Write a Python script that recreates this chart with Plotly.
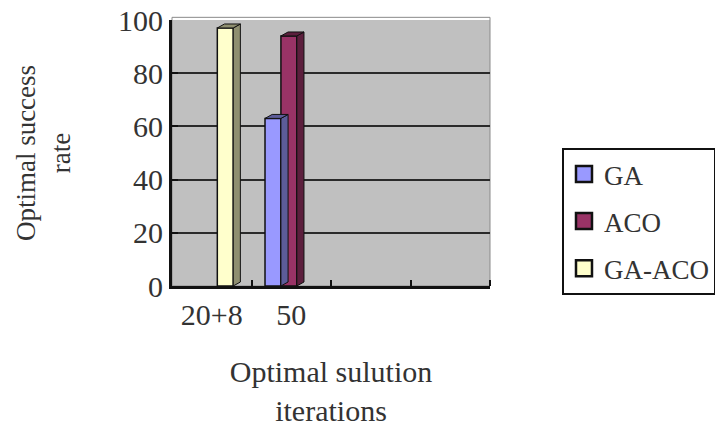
import plotly.graph_objects as go

categories = ["20+8", "50", "", ""]
x_pos = [0, 1, 2, 3]
ga = [None, 63, None, None]
aco = [None, 94, None, None]
ga_aco = [97, None, None, None]
series_names = ["GA", "ACO", "GA-ACO"]
y_ticks = [0, 20, 40, 60, 80, 100]

front_colors = ["#9999FF", "#993366", "#FFFFCC"]
side_colors = ["#5C5C99", "#5C1F3D", "#8F8F70"]
offsets = [-0.33, -0.13, 0.07]
bw = 0.2
dx, dy = 0.09, 1.5

FONT = "Liberation Serif"
FS = 30
TXT = "#333333"
fig = go.Figure()
for name, vals, fc, off in zip(series_names, [ga, aco, ga_aco], front_colors, offsets):
    fig.add_trace(go.Bar(
        x=x_pos, y=vals, name=name, width=bw, offset=off,
        marker=dict(color=fc, line=dict(color="#111111", width=1.5)),
        legendgroup=name, showlegend=False,
    ))
# legend proxies (larger square symbols like the reference)
for name, fc in zip(series_names, front_colors):
    fig.add_trace(go.Scatter(
        x=[None], y=[None], mode="markers", name=name, legendgroup=name,
        marker=dict(symbol="square", size=16, color=fc, line=dict(color="#111111", width=2.5)),
    ))

shapes = []
for vals, sc, off in zip([ga, aco, ga_aco], side_colors, offsets):
    for xp, v in zip(x_pos, vals):
        if v is None:
            continue
        xl = xp + off
        xr = xl + bw
        shapes.append(dict(type="path", xref="x", yref="y",
                           path=f"M{xr},0 L{xr},{v} L{xr+dx},{v+dy} L{xr+dx},{dy} Z",
                           fillcolor=sc, line=dict(color="#111111", width=1), layer="above"))
        shapes.append(dict(type="path", xref="x", yref="y",
                           path=f"M{xl},{v} L{xr},{v} L{xr+dx},{v+dy} L{xl+dx},{v+dy} Z",
                           fillcolor=sc, line=dict(color="#111111", width=1), layer="above"))
shapes.append(dict(type="rect", xref="paper", yref="paper", x0=0, x1=1, y0=0, y1=1.01,
                   line=dict(color="#8A8A8A", width=1), layer="below"))

fig.update_layout(
    width=715, height=427,
    margin=dict(l=172, r=225, t=20, b=141, autoexpand=False),
    paper_bgcolor="white",
    plot_bgcolor="#C0C0C0",
    barmode="overlay",
    font=dict(family=FONT, size=FS, color=TXT),
    shapes=shapes,
    showlegend=True,
    legend=dict(x=1.2264, y=0.519, xanchor="left", yanchor="top",
                bordercolor="#111111", borderwidth=2, bgcolor="white",
                font=dict(family=FONT, size=27, color=TXT),
                tracegroupgap=9, traceorder="grouped",
                itemsizing="trace", itemwidth=30),
    xaxis=dict(
        range=[-0.5, 3.5],
        tickvals=[0, 1], ticktext=categories[:2],
        ticks="", showgrid=False, zeroline=False,
        showline=True, linecolor="#111111", linewidth=3,
        minor=dict(tickvals=[0.5, 1.5, 2.5, 3.5], ticks="inside", ticklen=6,
                   tickwidth=2, tickcolor="#111111", showgrid=False),
        title=dict(text="Optimal sulution<br>iterations", standoff=40,
                   font=dict(family=FONT, size=FS, color=TXT)),
        tickfont=dict(family=FONT, size=FS, color=TXT),
    ),
    yaxis=dict(
        range=[0, 100], tickvals=y_ticks,
        ticks="inside", ticklen=6, tickwidth=2, tickcolor="#111111",
        showgrid=True, gridcolor="#2A2A2A", gridwidth=2,
        zeroline=False,
        showline=True, linecolor="#111111", linewidth=3,
        title=dict(text="Optimal success<br>rate", standoff=40,
                   font=dict(family=FONT, size=27, color=TXT)),
        tickfont=dict(family=FONT, size=FS, color=TXT),
    ),
)

fig.write_html("out.html")
